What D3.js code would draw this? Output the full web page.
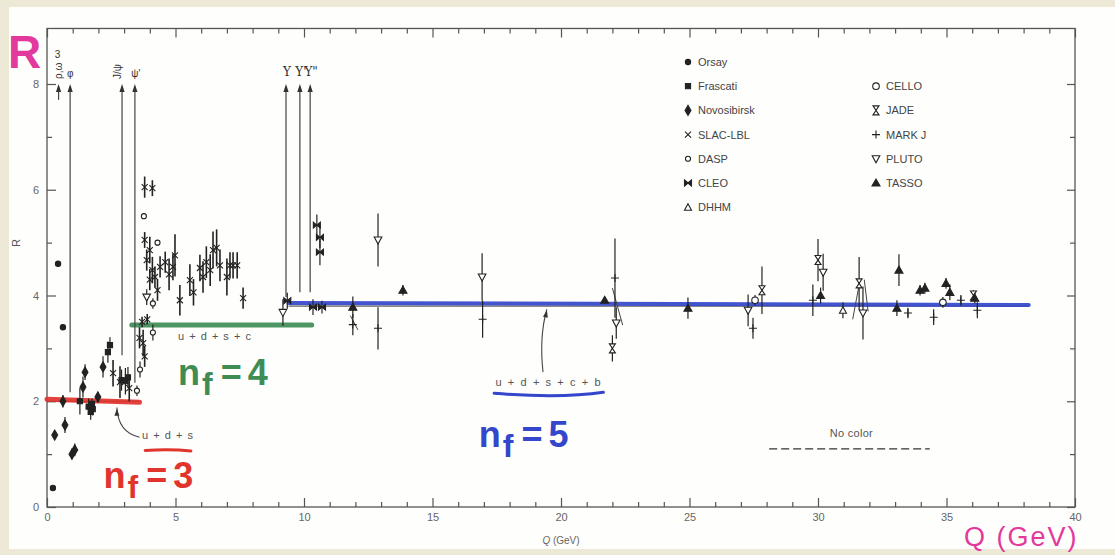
<!DOCTYPE html>
<html>
<head>
<meta charset="utf-8">
<script src="https://cdn.jsdelivr.net/npm/d3@7"></script>
<style>
  body { margin: 0; background: #eee8d6; }
  svg { display: block; }
  text { font-family: "Liberation Sans", Arial, sans-serif; }
</style>
</head>
<body>
<svg id="chart" width="1115" height="555"></svg>
<script>
// ---- data: [Q (GeV), R, error] ----
const orsay = [[0.23, 0.36, 0.03], [0.43, 4.6, 0.05], [0.62, 3.4, 0.05]];
const frascati = [[1.28, 2.0, 0.25], [1.62, 1.9, 0.15], [1.7, 1.8, 0.15], [1.78, 1.85, 0.12], [1.75, 1.95, 0.1],
  [2.37, 2.93, 0.2], [2.45, 3.06, 0.15], [2.9, 2.4, 0.2], [3.05, 2.38, 0.25], [3.15, 2.45, 0.2]];
const novosibirsk = [[0.3, 1.36, 0.05], [0.62, 2.0, 0.12], [0.7, 1.55, 0.15], [0.97, 1.0, 0.1], [1.08, 1.08, 0.12],
  [1.4, 2.27, 0.2], [1.48, 2.55, 0.15], [1.98, 2.08, 0.1], [2.18, 2.65, 0.2]];
const slacLbl = [[2.57, 2.53, 0.25], [2.84, 2.36, 0.3], [3.2, 2.25, 0.25], [3.6, 3.2, 0.2], [3.74, 3.1, 0.25],
  [3.8, 2.85, 0.2], [3.7, 3.5, 0.1], [3.9, 3.55, 0.1], [3.8, 6.05, 0.2], [4.1, 6.03, 0.15], [3.8, 5.05, 0.15],
  [3.88, 4.67, 0.2], [4.0, 4.86, 0.25], [4.0, 4.3, 0.2], [4.1, 4.48, 0.25], [4.2, 4.35, 0.2], [4.3, 4.1, 0.2],
  [4.4, 4.54, 0.2], [4.6, 4.63, 0.2], [4.75, 4.4, 0.3], [4.9, 4.54, 0.25], [4.98, 4.76, 0.4], [5.17, 3.91, 0.29],
  [5.56, 4.29, 0.3], [5.7, 4.06, 0.25], [5.95, 4.52, 0.25], [6.07, 4.35, 0.3], [6.2, 4.63, 0.3], [6.35, 4.48, 0.3],
  [6.46, 4.86, 0.35], [6.6, 4.9, 0.35], [6.73, 4.57, 0.3], [7.0, 4.35, 0.35], [7.12, 4.57, 0.25],
  [7.24, 4.57, 0.25], [7.4, 4.57, 0.25], [7.63, 3.95, 0.2]];
const dasp = [[3.5, 2.2, 0.1], [3.62, 2.6, 0.15], [3.77, 5.5, 0.05], [4.3, 5.0, 0.05], [4.12, 3.85, 0.1], [4.12, 3.3, 0.15]];
const cleo = [[9.35, 3.9, 0.15], [10.35, 3.78, 0.15], [10.7, 3.78, 0.12], [10.5, 5.33, 0.2], [10.62, 5.1, 0.2], [10.62, 4.82, 0.25]];
const dhhm = [[30.97, 3.72, 0.15]];
const cello = [[27.55, 3.91, 0.1], [34.86, 3.87, 0.1]];
const jade = [[22.0, 3.0, 0.25], [27.82, 4.1, 0.45], [30.0, 4.67, 0.4], [31.6, 4.23, 0.5], [36.05, 4.0, 0.1]];
const markJ = [[11.9, 3.45, 0.2], [12.88, 3.38, 0.4], [16.95, 3.55, 0.35], [22.1, 4.33, 0.75], [27.47, 3.38, 0.2],
  [29.8, 3.91, 0.3], [33.5, 3.67, 0.1], [34.5, 3.59, 0.15], [35.56, 3.91, 0.1], [36.2, 3.72, 0.15]];
const pluto = [[3.88, 3.97, 0.15], [9.18, 3.68, 0.25], [12.88, 5.05, 0.5], [16.93, 4.35, 0.45], [22.15, 3.48, 0.3],
  [27.28, 3.72, 0.3], [30.2, 4.44, 0.35], [31.75, 3.67, 0.5]];
const tasso = [[11.9, 3.78, 0.2], [13.85, 4.1, 0.1], [21.7, 3.91, 0.05], [24.94, 3.76, 0.2], [30.1, 4.0, 0.15],
  [33.07, 3.76, 0.15], [33.15, 4.48, 0.3], [33.97, 4.1, 0.1], [34.16, 4.14, 0.1], [34.98, 4.23, 0.1],
  [35.13, 4.06, 0.15], [36.1, 3.95, 0.1]];

// slanted bars drawn in the figure: [q1, r1, q2, r2]
const slants = [[11.8, 3.62, 12.1, 3.35], [22.0, 4.14, 22.4, 3.44], [31.35, 3.55, 31.6, 4.2], [31.8, 4.3, 31.95, 3.7]];

// resonances
const resNames = ["ρ,ω", "φ", "J/ψ", "ψ'", "Υ", "Υ'", "Υ\""];
const resQ = [0.45, 0.9, 2.92, 3.42, 9.3, 9.84, 10.24];
const resFloor = [7.7, 2.17, 2.87, 2.35, 3.97, 4.06, 4.06];

// quark-model steps
const steps = [
  { q0: 0, q1: 3.6, r0: 2.04, r1: 1.98, color: "#e0342c", w: 5 },
  { q0: 3.3, q1: 10.3, r0: 3.44, r1: 3.44, color: "#3f8d55", w: 5 },
  { q0: 9.4, q1: 38.2, r0: 3.86, r1: 3.82, color: "#3446cc", w: 4 }
];

const xMajor = [0, 5, 10, 15, 20, 25, 30, 35, 40];
const xMinor = d3.range(1, 40).filter(d => d % 5 !== 0);
const yMajor = [0, 2, 4, 6, 8];
const yMinor = [1, 3, 5, 7];

// ---- chart ----
const svg = d3.select("#chart");
svg.append("rect").attr("x", 9).attr("y", 7).attr("width", 1106).attr("height", 542).attr("fill", "#fefefc");

const x = d3.scaleLinear().domain([0, 40]).range([47, 1075]);
const y = d3.scaleLinear().domain([0, 8]).range([507, 84]);
const yTop = 9.05;

svg.append("rect")
  .attr("x", x(0)).attr("y", y(yTop))
  .attr("width", x(40) - x(0)).attr("height", y(0) - y(yTop))
  .attr("fill", "none").attr("stroke", "#555").attr("stroke-width", 1.3);

function styleAxis(g) {
  g.select(".domain").remove();
  g.selectAll("line").attr("stroke", "#555").attr("stroke-width", 1.2);
  g.selectAll("text").attr("fill", "#666").style("font-size", "11px");
}
const fmt = d3.format("d");
svg.append("g").attr("transform", `translate(0,${y(0)})`)
  .call(d3.axisBottom(x).tickValues(xMajor).tickSize(-9).tickPadding(6).tickFormat(fmt)).call(styleAxis);
svg.append("g").attr("transform", `translate(0,${y(0)})`)
  .call(d3.axisBottom(x).tickValues(xMinor).tickSize(-5).tickFormat("")).call(styleAxis);
svg.append("g").attr("transform", `translate(0,${y(yTop)})`)
  .call(d3.axisTop(x).tickValues(xMajor).tickSize(-9).tickFormat("")).call(styleAxis);
svg.append("g").attr("transform", `translate(0,${y(yTop)})`)
  .call(d3.axisTop(x).tickValues(xMinor).tickSize(-5).tickFormat("")).call(styleAxis);
svg.append("g").attr("transform", `translate(${x(0)},0)`)
  .call(d3.axisLeft(y).tickValues(yMajor).tickSize(-9).tickPadding(8).tickFormat(fmt)).call(styleAxis);
svg.append("g").attr("transform", `translate(${x(0)},0)`)
  .call(d3.axisLeft(y).tickValues(yMinor).tickSize(-5).tickFormat("")).call(styleAxis);
svg.append("g").attr("transform", `translate(${x(40)},0)`)
  .call(d3.axisRight(y).tickValues(yMajor).tickSize(-8).tickFormat("")).call(styleAxis);
svg.append("g").attr("transform", `translate(${x(40)},0)`)
  .call(d3.axisRight(y).tickValues(yMinor).tickSize(-5).tickFormat("")).call(styleAxis);

svg.append("text").attr("transform", "translate(20,243) rotate(-90)")
  .attr("text-anchor", "middle").attr("fill", "#555").style("font-size", "11px").text("R");
svg.append("text").attr("x", (x(0) + x(40)) / 2).attr("y", 544)
  .attr("text-anchor", "middle").attr("fill", "#666").style("font-size", "10px")
  .html('<tspan font-style="italic">Q</tspan> (GeV)');

// ---- markers ----
const markers = {
  dot: { d: d3.symbol(d3.symbolCircle, 22)(), fill: "#222" },
  square: { d: d3.symbol(d3.symbolSquare, 26)(), fill: "#222" },
  diamond: { d: d3.symbol(d3.symbolDiamond, 30)(), fill: "#222" },
  cross: { d: "M-3,-3L3,3M-3,3L3,-3", fill: "none" },
  ocircle: { d: d3.symbol(d3.symbolCircle, 20)(), fill: "#fff" },
  bowtie: { d: "M-3.5,-3L3.5,3L3.5,-3L-3.5,3Z", fill: "#222" },
  otri: { d: "M0,-3.5L3.5,3L-3.5,3Z", fill: "#fff" },
  ocircleBig: { d: d3.symbol(d3.symbolCircle, 34)(), fill: "#fff" },
  hourglass: { d: "M-3,-4.5L3,-4.5L-3,4.5L3,4.5Z", fill: "#fff" },
  plus: { d: "M-4,0L4,0M0,-4L0,4", fill: "none" },
  otriDown: { d: "M-3.8,-3L3.8,-3L0,4Z", fill: "#fff" },
  tri: { d: "M0,-4L4,3L-4,3Z", fill: "#222" }
};

const experiments = [
  { name: "Orsay", data: orsay, marker: "dot" },
  { name: "Frascati", data: frascati, marker: "square" },
  { name: "Novosibirsk", data: novosibirsk, marker: "diamond" },
  { name: "SLAC-LBL", data: slacLbl, marker: "cross" },
  { name: "DASP", data: dasp, marker: "ocircle" },
  { name: "CLEO", data: cleo, marker: "bowtie" },
  { name: "DHHM", data: dhhm, marker: "otri" },
  { name: "CELLO", data: cello, marker: "ocircleBig" },
  { name: "JADE", data: jade, marker: "hourglass" },
  { name: "MARK J", data: markJ, marker: "plus" },
  { name: "PLUTO", data: pluto, marker: "otriDown" },
  { name: "TASSO", data: tasso, marker: "tri" }
];

function drawMarker(g, key, tx, ty) {
  const m = markers[key];
  g.append("path").attr("d", m.d).attr("transform", `translate(${tx},${ty})`)
    .attr("fill", m.fill).attr("stroke", "#222").attr("stroke-width", 1.1);
}

// quark-model steps (under data)
const stepG = svg.append("g");
stepG.append("line").attr("x1", x(0)).attr("x2", x(3.6)).attr("y1", y(2)).attr("y2", y(2))
  .attr("stroke", "#333").attr("stroke-width", 1);
stepG.append("line").attr("x1", x(9.4)).attr("x2", x(38.2)).attr("y1", y(3.8)).attr("y2", y(3.8))
  .attr("stroke", "#333").attr("stroke-width", 1);
stepG.selectAll("line.step").data(steps).enter().append("line").attr("class", "step")
  .attr("x1", d => x(d.q0)).attr("x2", d => x(d.q1))
  .attr("y1", d => y(d.r0)).attr("y2", d => y(d.r1))
  .attr("stroke", d => d.color).attr("stroke-width", d => d.w)
  .attr("stroke-linecap", "round").attr("opacity", 0.92);

// resonance arrows
const resG = svg.append("g");
resQ.forEach((q, i) => {
  resG.append("line").attr("x1", x(q)).attr("x2", x(q)).attr("y1", y(8) + 6).attr("y2", y(resFloor[i]))
    .attr("stroke", "#444").attr("stroke-width", 1.2);
  resG.append("path").attr("d", "M0,0L-2.6,8L2.6,8Z")
    .attr("transform", `translate(${x(q)},${y(8)})`).attr("fill", "#333");
});
const labelStyle = t => t.attr("fill", "#333").style("font-size", "10px");
resG.append("text").attr("x", x(resQ[0]) - 1).attr("y", 58).attr("text-anchor", "middle").call(labelStyle).text("3");
resG.append("text").attr("transform", `translate(${x(resQ[0]) + 3},${y(8) - 5}) rotate(-90)`).call(labelStyle).text(resNames[0]);
resG.append("text").attr("x", x(resQ[1])).attr("y", y(8) - 7).attr("text-anchor", "middle").call(labelStyle).text(resNames[1]);
resG.append("text").attr("transform", `translate(${x(resQ[2]) - 1},${y(8) - 5}) rotate(-90)`).call(labelStyle).text(resNames[2]);
resG.append("text").attr("x", x(resQ[3]) + 1).attr("y", y(8) - 7).attr("text-anchor", "middle").call(labelStyle).text(resNames[3]);
[4, 5, 6].forEach(i => {
  resG.append("text").attr("x", x(resQ[i]) + 1).attr("y", y(8) - 8).attr("text-anchor", "middle")
    .attr("fill", "#333").style("font-size", "12px").style("font-family", "'DejaVu Serif', serif").text(resNames[i]);
});

// slanted bars
svg.append("g").selectAll("line").data(slants).enter().append("line")
  .attr("x1", d => x(d[0])).attr("y1", d => y(d[1])).attr("x2", d => x(d[2])).attr("y2", d => y(d[3]))
  .attr("stroke", "#444").attr("stroke-width", 1);

// data points
experiments.forEach(e => {
  const g = svg.append("g");
  e.data.forEach(([q, r, err]) => {
    g.append("line").attr("x1", x(q)).attr("x2", x(q)).attr("y1", y(r - err)).attr("y2", y(r + err))
      .attr("stroke", "#222").attr("stroke-width", e.marker === "cross" ? 1.6 : 1.2);
    drawMarker(g, e.marker, x(q), y(r));
  });
});

// legend
const legend = svg.append("g");
experiments.forEach((e, i) => {
  const col = i < 7 ? 0 : 1;
  const row = col === 0 ? i : i - 6;
  const lx = col === 0 ? 688 : 876;
  const ly = 62 + row * 24.2;
  drawMarker(legend, e.marker, lx, ly);
  legend.append("text").attr("x", lx + 10).attr("y", ly + 4)
    .attr("fill", "#444").style("font-size", "11px").text(e.name);
});

// printed annotations
const annot = svg.append("g").attr("fill", "#555").style("font-size", "11px").style("letter-spacing", "1px");
annot.append("text").attr("x", x(3.7)).attr("y", y(1.29)).text("u + d + s");
annot.append("text").attr("x", x(5.1)).attr("y", y(3.15)).text("u + d + s + c");
annot.append("text").attr("x", x(17.45)).attr("y", y(2.29)).style("letter-spacing", "1.6px").text("u + d + s + c + b");
annot.append("text").attr("x", x(31.3)).attr("y", y(1.32)).attr("text-anchor", "middle").style("letter-spacing", "0.3px").text("No color");

svg.append("line").attr("x1", x(28.1)).attr("x2", x(34.35)).attr("y1", y(1.1)).attr("y2", y(1.1))
  .attr("stroke", "#333").attr("stroke-width", 1.2).attr("stroke-dasharray", "8,4");

const arrowPaths = [
  `M${x(3.6)},${y(1.32)} C${x(3.0)},${y(1.38)} ${x(2.75)},${y(1.6)} ${x(2.72)},${y(1.88)}`,
  `M${x(19.3)},${y(2.55)} C${x(19.2)},${y(3.0)} ${x(19.25)},${y(3.4)} ${x(19.45)},${y(3.74)}`
];
svg.append("g").selectAll("path").data(arrowPaths).enter().append("path")
  .attr("d", d => d).attr("fill", "none").attr("stroke", "#444").attr("stroke-width", 1.1);
[[2.72, 1.86, 0], [19.45, 3.72, 12]].forEach(([q, r, rot]) => {
  svg.append("path").attr("d", "M0,0L-2.5,7L2.5,7Z")
    .attr("transform", `translate(${x(q)},${y(r)}) rotate(${rot})`).attr("fill", "#333");
});

// handwritten notes
const hand = svg.append("g").style("font-family", "'DejaVu Sans', sans-serif").style("font-weight", "bold");
hand.append("path").attr("d", `M${x(3.82)},${y(1.07)} Q${x(4.8)},${y(1.1)} ${x(5.6)},${y(1.06)}`)
  .attr("fill", "none").attr("stroke", "#e0342c").attr("stroke-width", 3).attr("stroke-linecap", "round");
hand.append("path").attr("d", `M${x(17.4)},${y(2.15)} Q${x(20)},${y(2.05)} ${x(21.65)},${y(2.17)}`)
  .attr("fill", "none").attr("stroke", "#3446cc").attr("stroke-width", 3).attr("stroke-linecap", "round");

function nf(qx, ry, digit, color) {
  const t = hand.append("text").attr("x", x(qx)).attr("y", y(ry)).attr("fill", color).style("font-size", "36px");
  t.append("tspan").text("n");
  t.append("tspan").attr("dy", 10).attr("dx", 2).style("font-size", "32px").text("f");
  t.append("tspan").attr("dy", -10).attr("dx", 8).text("=");
  t.append("tspan").attr("dx", 6).text(digit);
}
nf(2.2, 0.36, "3", "#e0342c");
nf(5.1, 2.31, "4", "#3f8d55");
nf(16.8, 1.13, "5", "#3446cc");

hand.append("text").attr("x", 8).attr("y", 68).attr("fill", "#e3389c")
  .style("font-size", "46px").text("R");
hand.append("text").attr("x", 964).attr("y", 546).attr("fill", "#e3389c")
  .style("font-size", "27px").style("font-weight", "normal").style("letter-spacing", "2px").text("Q (GeV)");
</script>
</body>
</html>
